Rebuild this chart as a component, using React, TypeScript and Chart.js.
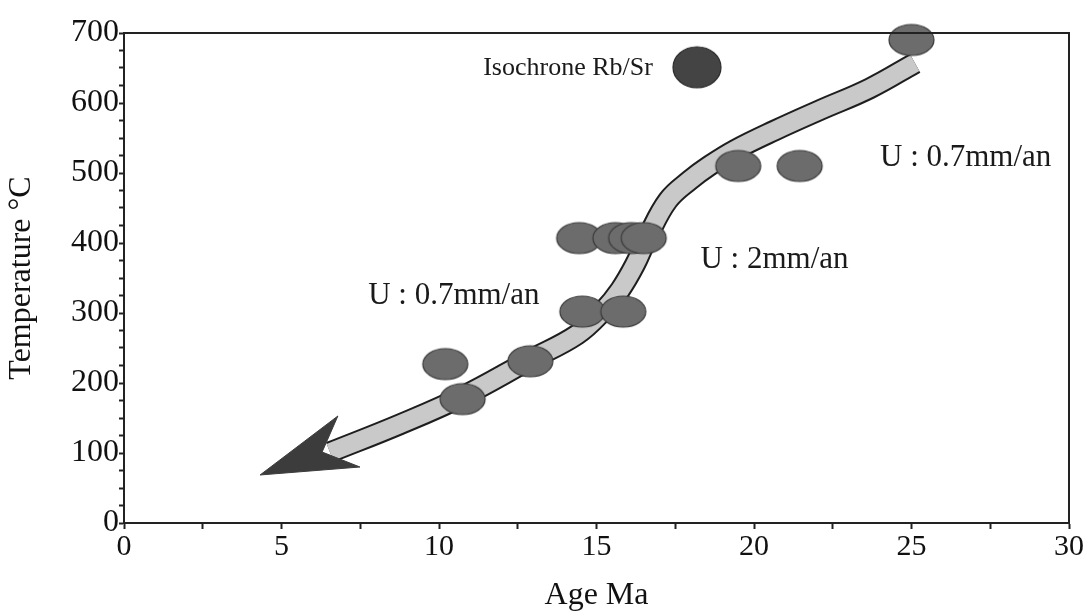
import React, { useEffect, useRef } from "react";
import { Chart, registerables } from "chart.js";

Chart.register(...registerables);

// Axis ranges / ticks
const ageMin = 0;
const ageMax = 30;
const ageStep = 2.5;
const ageLabelEvery = 5;
const tempMin = 0;
const tempMax = 700;
const tempStep = 25;
const tempLabelEvery = 100;

// Cooling path (centre line of the grey band), Age (Ma) / Temperature (°C)
const bandAge = [25.11, 23.68, 22.1, 20.67, 19.4, 18.57, 17.97, 17.27, 16.63, 16.22, 15.75, 15.21, 14.38, 12.89, 10.76, 8.76, 6.54];
const bandTemp = [657, 621, 590, 561, 533, 510, 490, 461, 409, 369, 333, 303, 269, 233, 181, 141, 101];

// Arrow head (closed polygon)
const arrowAge = [4.32, 6.79, 6.29, 7.49, 4.32];
const arrowTemp = [68.6, 152.9, 101.4, 80, 68.6];

// Sample ages (grey ellipses)
const sampleAge = [25.0, 19.5, 21.45, 14.45, 15.6, 16.1, 16.5, 14.55, 15.85, 12.9, 10.2, 10.75];
const sampleTemp = [690, 510, 510, 407, 407, 407, 407, 302, 302, 231, 227, 177];

// Rb/Sr isochrone (dark circle)
const isochroneAge = [18.19];
const isochroneTemp = [651];

// Text annotations (anchored in data units)
const noteText = ["Isochrone Rb/Sr", "U : 0.7mm/an", "U : 2mm/an", "U : 0.7mm/an"];
const noteAge = [16.79, 24.0, 18.3, 7.75];
const noteTemp = [650, 521, 376, 325];
const noteSize = [26, 31, 31, 31];
const noteAlign: CanvasTextAlign[] = ["right", "left", "left", "left"];

const FONT = '"Liberation Serif", "Times New Roman", serif';

function makeEllipse(rx: number, ry: number, fill: string, stroke: string) {
  const c = document.createElement("canvas");
  c.width = Math.ceil(rx * 2 + 4);
  c.height = Math.ceil(ry * 2 + 4);
  const g = c.getContext("2d")!;
  g.beginPath();
  g.ellipse(c.width / 2, c.height / 2, rx, ry, 0, 0, Math.PI * 2);
  g.fillStyle = fill;
  g.fill();
  g.lineWidth = 1.2;
  g.strokeStyle = stroke;
  g.stroke();
  return c;
}

export default function App() {
  const ref = useRef<HTMLCanvasElement | null>(null);

  useEffect(() => {
    if (!ref.current) return;
    const ellipse = makeEllipse(22.5, 15.5, "#6c6c6c", "#3a3a3a");
    const circle = makeEllipse(24, 20.5, "#444444", "#2a2a2a");

    const decor = {
      id: "decor",
      afterDatasetsDraw(chart: any) {
        const { ctx, chartArea, scales } = chart;
        const { left, top, right, bottom } = chartArea;
        ctx.save();
        ctx.strokeStyle = "#222";
        ctx.lineWidth = 2;
        ctx.beginPath();
        ctx.moveTo(left, top);
        ctx.lineTo(right, top);
        ctx.lineTo(right, bottom);
        ctx.stroke();
        ctx.fillStyle = "#1a1a1a";
        ctx.textBaseline = "middle";
        noteText.forEach((t, i) => {
          ctx.font = `${noteSize[i]}px ${FONT}`;
          ctx.textAlign = noteAlign[i];
          ctx.fillText(t, scales.x.getPixelForValue(noteAge[i]), scales.y.getPixelForValue(noteTemp[i]));
        });
        ctx.restore();
      },
    };

    const pts = (xs: number[], ys: number[]) => xs.map((x, i) => ({ x, y: ys[i] }));

    const chart = new Chart(ref.current, {
      type: "scatter",
      data: {
        datasets: [
          {
            label: "Isochrone Rb/Sr",
            data: pts(isochroneAge, isochroneTemp),
            pointStyle: circle as any,
            pointRadius: 10,
            showLine: false,
            clip: false as any,
            order: 0,
          },
          {
            label: "Samples",
            data: pts(sampleAge, sampleTemp),
            pointStyle: ellipse as any,
            pointRadius: 10,
            showLine: false,
            clip: false as any,
            order: 0,
          },
          {
            label: "Arrow",
            data: pts(arrowAge, arrowTemp),
            showLine: true,
            fill: "shape",
            backgroundColor: "#3c3c3c",
            borderColor: "#3c3c3c",
            borderWidth: 1,
            pointRadius: 0,
            tension: 0,
            clip: false as any,
            order: 1,
          } as any,
          {
            label: "Band",
            data: pts(bandAge, bandTemp),
            showLine: true,
            borderColor: "#c9c9c9",
            borderWidth: 18,
            borderCapStyle: "butt",
            pointRadius: 0,
            tension: 0.4,
            clip: false as any,
            order: 2,
          } as any,
          {
            label: "Band outline",
            data: pts(bandAge, bandTemp),
            showLine: true,
            borderColor: "#1e1e1e",
            borderWidth: 22,
            borderCapStyle: "butt",
            pointRadius: 0,
            tension: 0.4,
            clip: false as any,
            order: 3,
          } as any,
        ],
      },
      options: {
        animation: false,
        responsive: true,
        maintainAspectRatio: false,
        layout: { padding: { top: 33, right: 19, left: 0, bottom: 0 } },
        plugins: { legend: { display: false }, tooltip: { enabled: false } },
        scales: {
          x: {
            type: "linear",
            min: ageMin,
            max: ageMax,
            ticks: {
              stepSize: ageStep,
              autoSkip: false,
              maxRotation: 0,
              callback: (v: any) => (Math.abs(v % ageLabelEvery) < 1e-6 ? String(v) : ""),
              font: { family: FONT, size: 30 },
              color: "#111",
              padding: 0,
            },
            grid: { drawOnChartArea: false, drawTicks: true, tickLength: 6, color: "#222", tickWidth: 2 },
            border: { display: true, color: "#222", width: 2 },
            title: { display: true, text: "Age Ma", font: { family: FONT, size: 32 }, color: "#111", padding: { top: 0, bottom: -3 } },
            afterFit: (s: any) => {
              s.height = 89;
            },
          },
          y: {
            type: "linear",
            min: tempMin,
            max: tempMax,
            ticks: {
              stepSize: tempStep,
              autoSkip: false,
              callback: (v: any) => (Math.abs(v % tempLabelEvery) < 1e-6 ? String(v) : ""),
              font: { family: FONT, size: 32 },
              color: "#111",
              padding: 0,
            },
            grid: { drawOnChartArea: false, drawTicks: true, tickLength: 5, color: "#222", tickWidth: 2 },
            border: { display: true, color: "#222", width: 2 },
            title: { display: true, text: "Temperature °C", font: { family: FONT, size: 32 }, color: "#111", padding: { top: 2, bottom: 0 } },
            afterFit: (s: any) => {
              s.width = 124;
            },
          },
        },
      },
      plugins: [decor],
    } as any);
    return () => chart.destroy();
  }, []);

  return (
    <div style={{ position: "fixed", left: 0, top: 0, width: 1088, height: 612, background: "#fff" }}>
      <canvas ref={ref} />
    </div>
  );
}
